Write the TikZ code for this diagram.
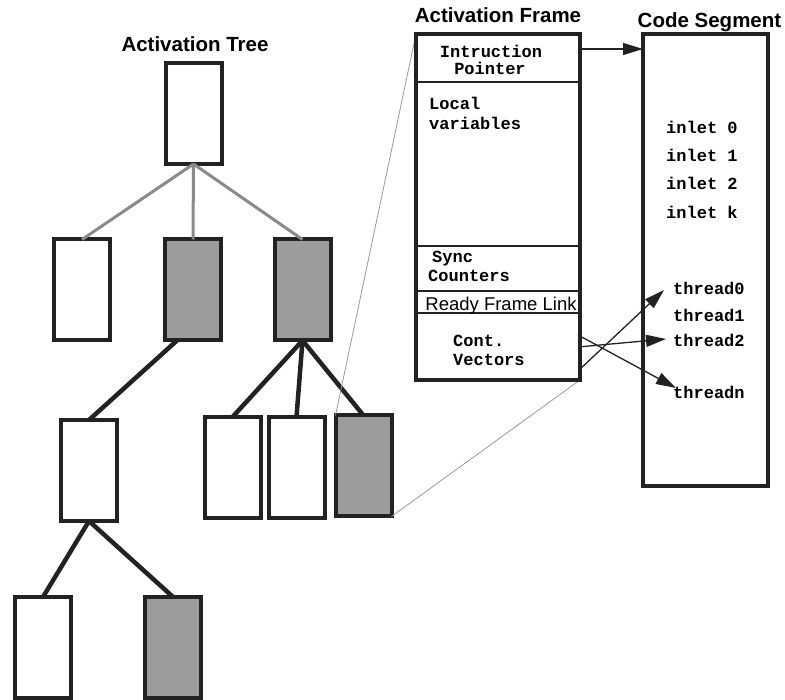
\documentclass[tikz,border=0pt]{standalone}
\usepackage{fontspec}
\setmainfont{Liberation Sans}
\newfontfamily\codefont{Liberation Mono}
\usetikzlibrary{arrows.meta}
\definecolor{ink}{HTML}{222222}
\definecolor{shade}{HTML}{9C9C9C}
\definecolor{linkgray}{HTML}{8A8A8A}
\definecolor{zoomgray}{HTML}{9A9A9A}
\begin{document}
\begin{tikzpicture}[x=1pt,y=-1pt,
  treebox/.style={draw=ink, fill=white, line width=4pt, minimum width=56pt, minimum height=101pt, inner sep=0pt, outer sep=0pt},
  active/.style={treebox, fill=shade},
  panel/.style={draw=ink, line width=4pt, inner sep=0pt, outer sep=0pt},
  uplink/.style={draw=linkgray, line width=3pt},
  downlink/.style={draw=ink, line width=4.5pt},
  zoomline/.style={draw=zoomgray, line width=0.8pt},
  divider/.style={draw=ink, line width=1.6pt},
  pointer/.style={draw=ink, line width=1.3pt, -{Triangle[length=20pt,width=12pt]}},
  title/.style={font=\bfseries\fontsize{20.5}{24}\selectfont, inner sep=0pt, anchor=base},
  code/.style={font=\codefont\bfseries\fontsize{17}{19}\selectfont, inner sep=0pt, anchor=base west},
  codec/.style={code, anchor=base},
  label/.style={font=\fontsize{18.5}{22}\selectfont, inner sep=0pt, anchor=base},
]
\useasboundingbox (0,0) rectangle (785,700);

% ---- activation tree ----
\node[treebox] (root) at (193.5,113.5) {};
\node[treebox] (L2a) at (82,290) {};
\node[active]  (L2b) at (193,290) {};
\node[active]  (L2c) at (302.5,290) {};
\node[treebox] (L3a) at (89,470.5) {};
\node[treebox] (L3b) at (232.5,467.5) {};
\node[treebox] (L3c) at (296.5,467.5) {};
\node[active]  (L3d) at (363.5,466) {};
\node[treebox] (L4a) at (43,647.5) {};
\node[active]  (L4b) at (172.5,647) {};

\draw[uplink] (root.south) -- (L2a.north);
\draw[uplink] (root.south) -- (L2b.north);
\draw[uplink] (root.south) -- (L2c.north);
\draw[downlink] ([xshift=-16pt]L2b.south) -- (L3a.north);
\draw[downlink] (L2c.south) -- (L3b.north);
\draw[downlink] (L2c.south) -- (L3c.north);
\draw[downlink] (L2c.south) -- (L3d.north);
\draw[downlink] (L3a.south) -- (L4a.north);
\draw[downlink] (L3a.south) -- (L4b.north);

\node[title] (tTree) at (195,52) {Activation Tree};

% ---- activation frame ----
\node[panel, minimum width=164pt, minimum height=346pt] (frame) at (498,207) {};
\draw[zoomline] (L3d.north west) -- (frame.north west);
\draw[zoomline] (L3d.south east) -- (frame.south east);
\node[panel, minimum width=164pt, minimum height=346pt] at (frame.center) {};

\coordinate (d1) at (0,82);
\coordinate (d2) at (0,246);
\coordinate (d3) at (0,291);
\coordinate (d4) at (0,313);
\foreach \d in {d1,d2,d3,d4}
  \draw[divider] (frame.west |- \d) -- (frame.east |- \d);

\node[title] (tFrame) at (498,23) {Activation Frame};
\node[codec] (ip1) at (491,57.3) {Intruction};
\node[codec] (ip2) at (490,75) {Pointer};
\node[code] (lv1) at (429,110) {Local};
\node[code] (lv2) at (429,130) {variables};
\node[code] (sc1) at (432,262.5) {Sync};
\node[code] (sc2) at (428,281.7) {Counters};
\node[label] (rfl) at (501,310.7) {Ready Frame Link};
\node[code] (cv1) at (453,346.7) {Cont.};
\node[code] (cv2) at (453,365.7) {Vectors};

% ---- code segment ----
\node[panel, minimum width=125pt, minimum height=452pt] (code) at (705.5,260) {};
\node[title] (tCode) at (709.5,27.5) {Code Segment};
\node[code] (in0) at (666,133.3) {inlet 0};
\node[code] (in1) at (666,161.7) {inlet 1};
\node[code] (in2) at (666,190) {inlet 2};
\node[code] (ink) at (666,218.3) {inlet k};
\node[code] (th0) at (673,295) {thread0};
\node[code] (th1) at (673,321.7) {thread1};
\node[code] (th2) at (673,346.7) {thread2};
\node[code] (thn) at (673,398.3) {threadn};

% ---- pointers ----
\coordinate (ipy) at (0,49);
\draw[pointer] (frame.east |- ipy) -- (code.west |- ipy);

\coordinate (cvA) at (578,335);
\coordinate (cvB) at (578,347);
\coordinate (cvC) at (578,371);
\coordinate (t0) at (664,290);
\coordinate (t2) at (666,339);
\coordinate (tn) at (676,388);
\draw[pointer] (cvA) -- (tn);
\draw[pointer] (cvB) -- (t2);
\draw[pointer] (cvC) -- (t0);
\end{tikzpicture}
\end{document}
